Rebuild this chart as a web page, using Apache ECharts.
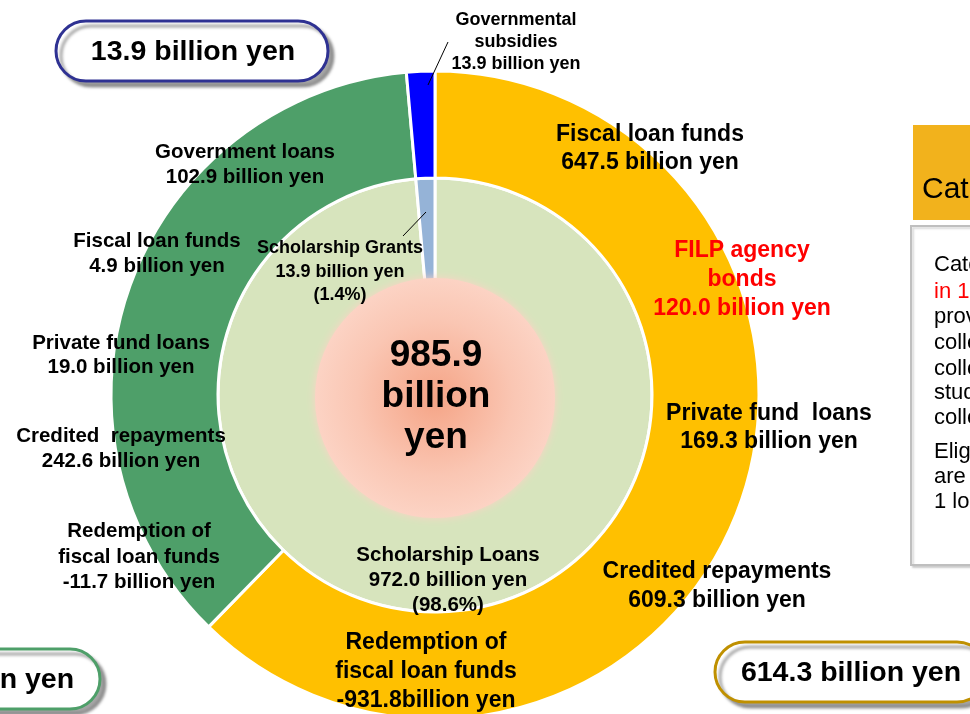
<!DOCTYPE html>
<html>
<head>
<meta charset="utf-8">
<script src="https://cdn.jsdelivr.net/npm/echarts@6/dist/echarts.min.js"></script>
<style>
  html, body { margin: 0; padding: 0; background: #fff; }
  #chart { width: 970px; height: 714px; }
</style>
</head>
<body>
<div id="chart"></div>
<script>
// outer ring: funding sources by category
const outerNames = ['Category 2 loans', 'Category 1 loans', 'Governmental subsidies'];
const outerValues = [614.3, 357.7, 13.9];
// inner pie: how it is spent
const innerNames = ['Scholarship Loans', 'Scholarship Grants'];
const innerValues = [972.0, 13.9];
// breakdown of the category 2 (gold) part
const cat2Items = ['Fiscal loan funds', 'FILP agency\nbonds', 'Private fund  loans', 'Credited repayments', 'Redemption of\nfiscal loan funds'];
const cat2Values = [647.5, 120.0, 169.3, 609.3, -931.8];
// breakdown of the category 1 (green) part
const cat1Items = ['Government loans', 'Fiscal loan funds', 'Private fund loans', 'Credited  repayments', 'Redemption of\nfiscal loan funds'];
const cat1Values = [102.9, 4.9, 19.0, 242.6, -11.7];

const FONT = '"Liberation Sans", Arial, sans-serif';
const total = innerValues.reduce((a, b) => a + b, 0);
const fmt = (v, sep) => v.toFixed(1) + (sep === undefined ? ' ' : sep) + 'billion yen';
const pct = (v) => '(' + (v / total * 100).toFixed(1) + '%)';

// label placement (centre x, centre y, line height)
const cat2Pos = [[650, 149, 28], [742, 280, 29], [769, 428, 28], [717, 586, 29], [426, 672, 29]];
const cat1Pos = [[245, 165, 25], [157, 254, 25], [121, 355, 24], [121, 449, 25], [139, 557, 25.5]];

const graphics = [];

function addText(x, y, text, size, lh, color, weight, align) {
  graphics.push({
    type: 'text', x: x, y: y, z: 20,
    style: {
      text: text,
      font: (weight || 'bold') + ' ' + size + 'px ' + FONT,
      fill: color || '#000',
      align: align || 'center',
      verticalAlign: 'middle',
      lineHeight: lh
    }
  });
}

// centre circle
graphics.push({
  type: 'circle', z: 15,
  shape: { cx: 435, cy: 398, r: 120 },
  style: {
    fill: new echarts.graphic.RadialGradient(0.5, 0.5, 0.5, [
      { offset: 0, color: '#F5A486' },
      { offset: 0.65, color: '#FAC6B3' },
      { offset: 1, color: '#FCD3C4' }
    ]),
    shadowBlur: 8,
    shadowColor: '#FCD3C4'
  }
});
addText(436, 397, total.toFixed(1) + '\nbillion\nyen', 37, 41);

cat2Items.forEach((name, i) => {
  const p = cat2Pos[i];
  const sep = i === 4 ? '' : ' ';
  addText(p[0], p[1], name + '\n' + fmt(cat2Values[i], sep), 23, p[2], i === 1 ? '#FF0000' : '#000');
});
cat1Items.forEach((name, i) => {
  const p = cat1Pos[i];
  addText(p[0], p[1], name + '\n' + fmt(cat1Values[i]), 20.5, p[2]);
});

// slice labels
addText(516, 42, 'Governmental\nsubsidies\n' + fmt(outerValues[2]), 18, 22);
addText(340, 272, innerNames[1] + '\n' + fmt(innerValues[1]) + '\n' + pct(innerValues[1]), 18, 23.5);
addText(448, 580, innerNames[0] + '\n' + fmt(innerValues[0]) + '\n' + pct(innerValues[0]), 20.5, 25);

// leader lines
graphics.push({ type: 'line', z: 20, shape: { x1: 448, y1: 42, x2: 428, y2: 85 }, style: { stroke: '#000', lineWidth: 1 } });
graphics.push({ type: 'line', z: 20, shape: { x1: 426, y1: 212, x2: 403, y2: 236 }, style: { stroke: '#000', lineWidth: 1 } });

// rounded total boxes
function addBox(x, y, w, h, stroke, text, tx) {
  graphics.push({
    type: 'rect', z: 18,
    shape: { x: x, y: y, width: w, height: h, r: h / 2 },
    style: {
      fill: '#fff', stroke: stroke, lineWidth: 3,
      shadowBlur: 3, shadowOffsetX: 5, shadowOffsetY: 5, shadowColor: 'rgba(0,0,0,0.35)'
    }
  });
  addText(tx, y + h / 2 + 1, text, 28.5, 32);
}
addBox(56, 21, 272, 60, '#2E3192', fmt(outerValues[2]), 193);
addBox(-172, 649, 272, 60, '#4E9F69', fmt(outerValues[1]), -36);
addBox(715, 642, 272, 60, '#BF9000', fmt(outerValues[0]), 851);

// side panel (cut off at the right edge)
graphics.push({ type: 'rect', z: 18, shape: { x: 913, y: 125, width: 80, height: 95 }, style: { fill: '#F2B21C' } });
addText(922, 190, 'Category 1', 30, 32, '#000', 'normal', 'left');
graphics.push({
  type: 'rect', z: 18,
  shape: { x: 911, y: 226, width: 100, height: 339 },
  style: { fill: '#fff', stroke: '#BFBFBF', lineWidth: 2, shadowBlur: 2, shadowOffsetX: 2, shadowOffsetY: 2, shadowColor: 'rgba(0,0,0,0.15)' }
});
const panelLines = [
  ['Category 1 loans started', 265, '#000'],
  ['in 1943 (interest-free)', 292, '#FF0000'],
  ['provided to students of', 317, '#000'],
  ['colleges, junior', 343, '#000'],
  ['colleges and', 369, '#000'],
  ['students of specialized', 393, '#000'],
  ['colleges', 418, '#000'],
  ['Eligible students', 452, '#000'],
  ['are selected from', 477, '#000'],
  ['1 loan per person', 502, '#000']
];
panelLines.forEach((l) => addText(934, l[1], l[0], 22, 25, l[2], 'normal', 'left'));

const chart = echarts.init(document.getElementById('chart'), null, { renderer: 'canvas' });
chart.setOption({
  backgroundColor: '#fff',
  animation: false,
  series: [
    {
      name: 'inner',
      type: 'pie',
      center: [435, 395],
      radius: [0, 217],
      startAngle: 90,
      clockwise: true,
      label: { show: false },
      labelLine: { show: false },
      itemStyle: { borderColor: '#fff', borderWidth: 3 },
      data: innerNames.map((n, i) => ({ name: n, value: innerValues[i] })),
      color: ['#D7E4BD', '#95B3D7'],
      emphasis: { disabled: true }
    },
    {
      name: 'outer',
      type: 'pie',
      center: [435, 395],
      radius: [217, 324],
      startAngle: 90,
      clockwise: true,
      label: { show: false },
      labelLine: { show: false },
      itemStyle: { borderColor: '#fff', borderWidth: 3 },
      data: outerNames.map((n, i) => ({ name: n, value: outerValues[i] })),
      color: ['#FFC000', '#4E9F69', '#0000FF'],
      emphasis: { disabled: true }
    }
  ],
  graphic: { elements: graphics }
});
</script>
</body>
</html>
